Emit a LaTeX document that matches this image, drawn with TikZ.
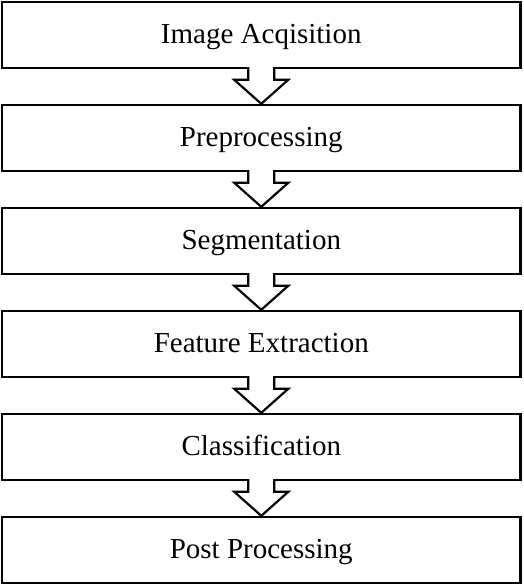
\documentclass[tikz,border=0pt]{standalone}
\usepackage{fontspec}
\setmainfont{Liberation Serif}
\usetikzlibrary{calc}
\begin{document}
\begin{tikzpicture}[x=1pt,y=-1pt,
  stage/.style={draw, line width=2.4pt, minimum width=518.5pt, minimum height=66pt, inner sep=0pt,
    text height=20pt, text depth=3pt, font=\fontsize{29}{34}\selectfont},
  blockarrow/.style={draw, fill=white, line width=2.2pt, line join=miter}]
\useasboundingbox (0,0) rectangle (523,587);
\node[stage] (b1) at (261.25,35) {Image Acqisition};
\node[stage] (b2) at (261.25,138) {Preprocessing};
\node[stage] (b3) at (261.25,241) {Segmentation};
\node[stage] (b4) at (261.25,344) {Feature Extraction};
\node[stage] (b5) at (261.25,447) {Classification};
\node[stage] (b6) at (261.25,550) {Post Processing};
\foreach \a/\b in {b1/b2,b2/b3,b3/b4,b4/b5,b5/b6}{
  \path[blockarrow] ($(\a.south)+(-13,-2)$) -- ($(\b.north)+(-13,-24)$) -- ($(\b.north)+(-27,-24)$)
    -- (\b.north) -- ($(\b.north)+(27,-24)$) -- ($(\b.north)+(13,-24)$) -- ($(\a.south)+(13,-2)$);
}
\end{tikzpicture}
\end{document}
